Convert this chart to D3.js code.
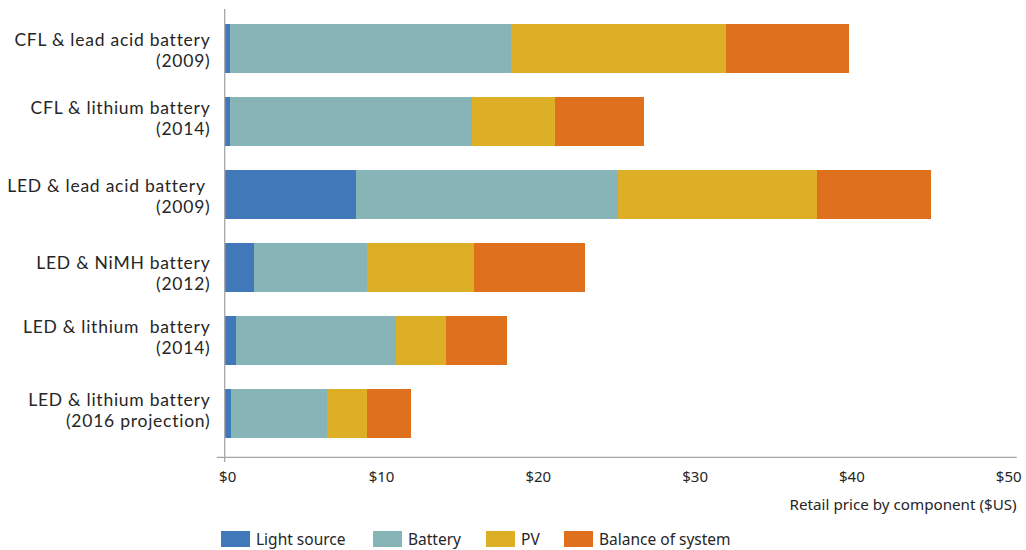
<!DOCTYPE html>
<html>
<head>
<meta charset="utf-8">
<script src="https://cdn.jsdelivr.net/npm/d3@7"></script>
<style>
  html, body { margin: 0; padding: 0; background: #fff; }
  svg text { font-family: "Noto Sans", Lato, sans-serif; fill: #262626; white-space: pre; }
  svg text.cat { font-family: Lato, "Noto Sans", sans-serif; letter-spacing: 0.75px; }
</style>
</head>
<body>
<svg id="chart" width="1026" height="550"></svg>
<script>
// Solar lighting kit retail price broken down by component (US$)
const categories = [
  ["CFL & lead acid battery", "(2009)"],
  ["CFL & lithium battery", "(2014)"],
  ["LED & lead acid battery ", "(2009)"],
  ["LED & NiMH battery", "(2012)"],
  ["LED & lithium  battery", "(2014)"],
  ["LED & lithium battery", "(2016 projection)"]
];
const seriesNames = ["Light source", "Battery", "PV", "Balance of system"];
const lightSource = [0.35, 0.35, 8.4, 1.85, 0.75, 0.4];
const battery     = [17.9, 15.4, 16.7, 7.25, 10.2, 6.15];
const pv          = [13.75, 5.3, 12.65, 6.8, 3.15, 2.5];
const balance     = [7.8, 5.7, 7.3, 7.05, 3.9, 2.8];
const tickValues  = [0, 10, 20, 30, 40, 50];
const tickLabels  = ["$0", "$10", "$20", "$30", "$40", "$50"];
const axisTitle   = "Retail price by component ($US)";
const colors      = ["#4178ba", "#87b5b7", "#dcaf26", "#df711e"];

// vertical nudge of each two-line category label relative to its bar
const labelNudge  = [-2.3, -8, -3, 1.8, -7.5, -7.3];

const svg = d3.select("#chart");
const x = d3.scaleLinear().domain([0, 50]).range([224.7, 1008.7]);
const y = d3.scaleBand().domain(d3.range(categories.length))
  .range([12, 450]).paddingInner(1 / 3).paddingOuter(1 / 6);

const rows = categories.map((c, i) => ({
  i, "Light source": lightSource[i], "Battery": battery[i], "PV": pv[i], "Balance of system": balance[i]
}));
const stacked = d3.stack().keys(seriesNames)(rows);

svg.append("g").selectAll("g").data(stacked).join("g")
  .attr("fill", (d, k) => colors[k])
  .selectAll("rect").data(d => d).join("rect")
  .attr("x", d => x(d[0]))
  .attr("width", d => x(d[1]) - x(d[0]))
  .attr("y", d => y(d.data.i))
  .attr("height", y.bandwidth())
  .attr("shape-rendering", "crispEdges");

// axis lines
const axisColor = "#a6a6a6";
svg.append("line").attr("x1", x(0) - 8).attr("x2", x(50) + 8)
  .attr("y1", 457.3).attr("y2", 457.3).attr("stroke", axisColor).attr("stroke-width", 1.3);
svg.append("line").attr("x1", x(0)).attr("x2", x(0))
  .attr("y1", 9).attr("y2", 462).attr("stroke", axisColor).attr("stroke-width", 1.3);

// x tick labels
svg.append("g").selectAll("text").data(tickValues).join("text")
  .attr("x", d => x(d) + (d === 0 ? 3 : 0))
  .attr("y", 482)
  .attr("text-anchor", "middle")
  .attr("font-size", 15)
  .text((d, i) => tickLabels[i]);

svg.append("text").attr("x", 1016.7).attr("y", 509.5)
  .attr("text-anchor", "end").attr("font-size", 15.2).text(axisTitle);

// category labels, two lines each
const labels = svg.append("g");
categories.forEach((c, i) => {
  const base = y(i) + y.bandwidth() / 2 + labelNudge[i];
  labels.append("text").attr("class", "cat").attr("text-anchor", "end")
    .attr("font-size", 17.5).attr("x", 210.5).attr("y", base).text(c[0]);
  labels.append("text").attr("class", "cat").attr("text-anchor", "end")
    .attr("font-size", 17.5).attr("x", 210.5).attr("y", base + 21).text(c[1]);
});

// legend
const legendX = [221, 373, 486, 564];
const leg = svg.append("g").selectAll("g").data(seriesNames).join("g")
  .attr("transform", (d, k) => `translate(${legendX[k]},531)`);
leg.append("rect").attr("width", 29).attr("height", 16).attr("fill", (d, k) => colors[k]);
leg.append("text").attr("x", 35).attr("y", 14).attr("font-size", 15.5).text(d => d);
</script>
</body>
</html>
